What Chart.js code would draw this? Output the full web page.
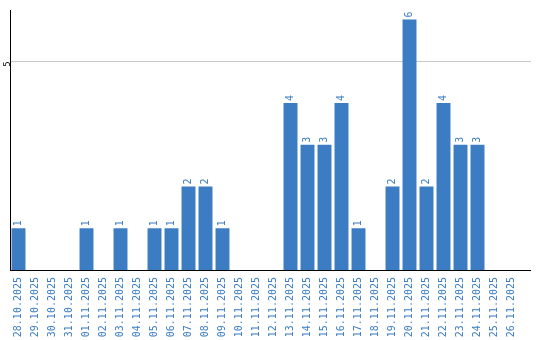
<!DOCTYPE html>
<html>
<head>
<meta charset="utf-8">
<script src="https://cdn.jsdelivr.net/npm/chart.js@4"></script>
<style>
  html, body { margin: 0; padding: 0; background: #fff; }
  #wrap { width: 540px; height: 340px; }
</style>
</head>
<body>
<div id="wrap"><canvas id="chart"></canvas></div>
<script>
// Даты (категории)
const days = [
    '28.10.2025', '29.10.2025', '30.10.2025', '31.10.2025', '01.11.2025',
    '02.11.2025', '03.11.2025', '04.11.2025', '05.11.2025', '06.11.2025',
    '07.11.2025', '08.11.2025', '09.11.2025', '10.11.2025', '11.11.2025',
    '12.11.2025', '13.11.2025', '14.11.2025', '15.11.2025', '16.11.2025',
    '17.11.2025', '18.11.2025', '19.11.2025', '20.11.2025', '21.11.2025',
    '22.11.2025', '23.11.2025', '24.11.2025', '25.11.2025', '26.11.2025'
];

// Количество по дням
const counts = [
    1, 0, 0, 0, 1,
    0, 1, 0, 1, 1,
    2, 2, 1, 0, 0,
    0, 4, 3, 3, 4,
    1, 0, 2, 6, 2,
    4, 3, 3, 0, 0
];

// Подписи оси Y
const yTicks = [5];

const blue = '#3b7cc2';
const font = 'DejaVu Sans Mono';
const lineEnd = 531; // ось и сетка тянутся чуть дальше последнего столбца

// То же выравнивание, что и у линий Chart.js
const align = p => Math.round(p - 0.5) + 0.5;

// Подписи значений над столбцами (повернуты)
const valueLabels = {
    id: 'valueLabels',
    afterDatasetsDraw(chart) {
        const ctx = chart.ctx;
        const meta = chart.getDatasetMeta(0);
        ctx.save();
        ctx.fillStyle = blue;
        ctx.font = '10px "' + font + '"';
        ctx.textAlign = 'left';
        ctx.textBaseline = 'middle';
        meta.data.forEach((bar, i) => {
            if (!counts[i]) return;
            ctx.save();
            ctx.translate(bar.x, bar.y - 2);
            ctx.rotate(-Math.PI / 2);
            ctx.fillText(String(counts[i]), 0, 0);
            ctx.restore();
        });
        ctx.restore();
    }
};

// Продление линий оси X и сетки вправо
const extendLines = {
    id: 'extendLines',
    beforeDatasetsDraw(chart) {
        const ctx = chart.ctx;
        const area = chart.chartArea;
        const y = chart.scales.y;
        ctx.save();
        ctx.lineWidth = 1;
        ctx.strokeStyle = '#c8c8c8';
        yTicks.forEach(v => {
            const py = align(y.getPixelForValue(v));
            ctx.beginPath();
            ctx.moveTo(area.right, py);
            ctx.lineTo(lineEnd, py);
            ctx.stroke();
        });
        ctx.strokeStyle = '#000';
        const by = align(area.bottom);
        ctx.beginPath();
        ctx.moveTo(area.right, by);
        ctx.lineTo(lineEnd, by);
        ctx.stroke();
        ctx.restore();
    }
};

new Chart(document.getElementById('chart'), {
    type: 'bar',
    data: {
        labels: days,
        datasets: [{
            data: counts,
            backgroundColor: blue,
            barPercentage: 0.82,
            categoryPercentage: 1
        }]
    },
    options: {
        responsive: true,
        maintainAspectRatio: false,
        animation: false,
        layout: { padding: { top: 10, right: 20, left: 0, bottom: 0 } },
        plugins: { legend: { display: false }, tooltip: { enabled: false } },
        scales: {
            x: {
                grid: { display: false, drawTicks: false },
                border: { color: '#000', width: 1 },
                ticks: {
                    color: blue,
                    font: { family: font, size: 10 },
                    minRotation: 90,
                    maxRotation: 90,
                    padding: 7,
                    autoSkip: false
                },
                afterFit(scale) { scale.height = 70; }
            },
            y: {
                min: 0,
                max: 6.23,
                grid: { color: '#c8c8c8', drawTicks: false },
                border: { color: '#000', width: 1 },
                afterBuildTicks(scale) { scale.ticks = yTicks.map(v => ({ value: v })); },
                ticks: {
                    color: '#000',
                    font: { family: 'DejaVu Sans', size: 8 },
                    minRotation: 90,
                    maxRotation: 90,
                    padding: 2
                },
                afterFit(scale) { scale.width = 10; }
            }
        }
    },
    plugins: [extendLines, valueLabels]
});
</script>
</body>
</html>
